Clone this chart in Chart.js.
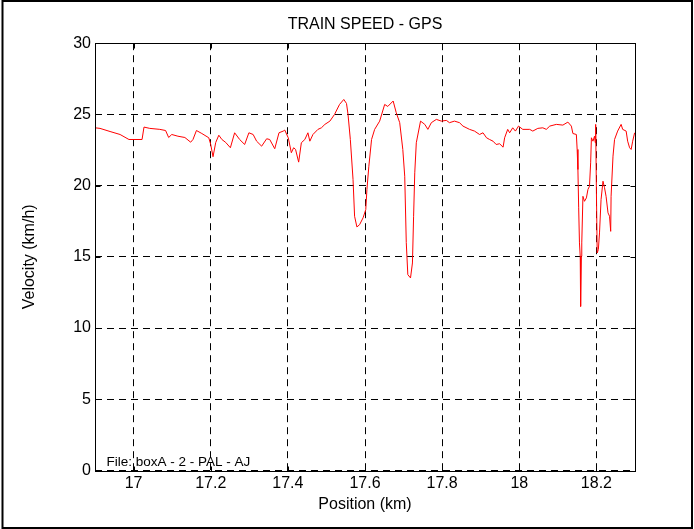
<!DOCTYPE html>
<html>
<head>
<meta charset="utf-8">
<title>Train speed - GPS</title>
<script src="https://cdn.jsdelivr.net/npm/chart.js@4.4.1/dist/chart.umd.min.js"></script>
<style>
  html, body { margin: 0; padding: 0; background: #fff; }
  canvas { display: block; }
</style>
</head>
<body>
<canvas id="speedChart" width="694" height="529"></canvas>
<script>
// Train speed from GPS along the line, MATLAB-style figure look
// (boxed axes, dashed black grid, thin red trace).

const positionKm = [
    16.900, 16.913, 16.939, 16.965, 16.988, 17.022, 17.027, 17.042, 17.068, 17.083,
    17.091, 17.099, 17.115, 17.133, 17.148, 17.154, 17.163, 17.177, 17.195, 17.200,
    17.206, 17.213, 17.221, 17.229, 17.239, 17.251, 17.262, 17.275, 17.288, 17.299,
    17.310, 17.319, 17.332, 17.345, 17.353, 17.366, 17.377, 17.388, 17.392, 17.401,
    17.409, 17.415, 17.420, 17.428, 17.435, 17.444, 17.452, 17.457, 17.465, 17.478,
    17.487, 17.496, 17.509, 17.521, 17.534, 17.545, 17.552, 17.556, 17.562, 17.569,
    17.573, 17.579, 17.586, 17.595, 17.602, 17.605, 17.610, 17.617, 17.625, 17.638,
    17.651, 17.659, 17.673, 17.681, 17.690, 17.698, 17.703, 17.707, 17.711, 17.718,
    17.723, 17.726, 17.729, 17.733, 17.744, 17.755, 17.763, 17.772, 17.785, 17.798,
    17.811, 17.819, 17.832, 17.845, 17.854, 17.871, 17.884, 17.897, 17.906, 17.915,
    17.923, 17.932, 17.940, 17.949, 17.958, 17.962, 17.970, 17.975, 17.983, 17.990,
    17.998, 18.009, 18.027, 18.035, 18.048, 18.061, 18.070, 18.079, 18.096, 18.113,
    18.126, 18.135, 18.139, 18.148, 18.150, 18.152, 18.154, 18.156, 18.158, 18.159,
    18.161, 18.162, 18.165, 18.169, 18.174, 18.178, 18.182, 18.185, 18.187, 18.191,
    18.195, 18.197, 18.198, 18.200, 18.202, 18.205, 18.208, 18.212, 18.217, 18.221,
    18.225, 18.230, 18.234, 18.237, 18.238, 18.243, 18.247, 18.255, 18.264, 18.268,
    18.277, 18.281, 18.286, 18.290, 18.294, 18.299,
];

const velocityKmh = [
    24.06, 24.02, 23.80, 23.59, 23.24, 23.24, 24.11, 24.02, 23.95, 23.87,
    23.38, 23.59, 23.47, 23.38, 23.05, 23.24, 23.87, 23.66, 23.36, 22.89,
    22.03, 23.03, 23.54, 23.24, 23.03, 22.66, 23.71, 23.24, 22.89, 23.71,
    23.59, 23.12, 22.77, 23.29, 23.24, 22.59, 23.71, 23.83, 23.90, 23.36,
    22.31, 22.66, 22.54, 21.65, 23.01, 23.24, 23.71, 23.12, 23.59, 23.95,
    24.06, 24.30, 24.53, 25.00, 25.70, 26.05, 25.77, 25.00, 23.24, 20.43,
    17.85, 17.10, 17.26, 17.74, 18.32, 19.73, 21.36, 23.24, 23.95, 24.53,
    25.70, 25.56, 25.94, 25.12, 24.42, 22.54, 20.66, 16.00, 13.75, 13.52,
    14.57, 17.85, 20.90, 23.01, 24.53, 24.30, 23.95, 24.42, 24.65, 24.53,
    24.58, 24.42, 24.53, 24.42, 24.18, 23.95, 23.83, 23.59, 23.71, 23.36,
    23.24, 23.12, 22.89, 22.94, 22.70, 23.36, 23.95, 23.71, 24.06, 23.83,
    24.18, 23.95, 23.95, 23.83, 24.02, 24.06, 23.95, 24.18, 24.30, 24.25,
    24.46, 24.18, 23.66, 23.59, 22.54, 21.13, 18.44, 15.98, 15.04, 11.52,
    15.04, 15.98, 19.25, 18.90, 19.14, 19.73, 19.96, 21.60, 23.36, 23.12,
    23.47, 23.01, 24.30, 19.49, 15.27, 15.51, 16.68, 19.02, 20.31, 19.85,
    19.25, 18.09, 17.85, 16.79, 19.25, 22.07, 23.24, 23.83, 24.30, 23.95,
    23.83, 23.12, 22.66, 22.54, 23.12, 23.71,
];

const xTickValues = [17, 17.2, 17.4, 17.6, 17.8, 18, 18.2];
const xTickLabels = ['17', '17.2', '17.4', '17.6', '17.8', '18', '18.2'];
const yTickValues = [0, 5, 10, 15, 20, 25, 30];
const FILE_NOTE = 'File: boxA - 2 - PAL - AJ';

const FONT = "'Liberation Sans', Arial, Helvetica, sans-serif";
Chart.defaults.font.family = FONT;
Chart.defaults.font.size = 16;
Chart.defaults.color = '#000';

// box around the axes, small inward tick marks, outer figure border, file note
const figurePlugin = {
    id: 'figureFrame',
    afterDraw(chart) {
        const { ctx, chartArea: a, scales } = chart;
        const L = Math.round(a.left) + 0.5, R = Math.round(a.right) + 0.5;
        const T = Math.round(a.top) + 0.5, B = Math.round(a.bottom) + 0.5;
        ctx.save();
        ctx.strokeStyle = '#000';
        ctx.lineWidth = 1;
        ctx.beginPath();
        scales.x.ticks.forEach(t => {
            const px = Math.round(scales.x.getPixelForValue(t.value)) + 0.5;
            ctx.moveTo(px, B); ctx.lineTo(px, B - 5);
            ctx.moveTo(px, T); ctx.lineTo(px, T + 5);
        });
        scales.y.ticks.forEach(t => {
            const py = Math.round(scales.y.getPixelForValue(t.value)) + 0.5;
            ctx.moveTo(L, py); ctx.lineTo(L + 5, py);
            ctx.moveTo(R, py); ctx.lineTo(R - 5, py);
        });
        ctx.stroke();
        ctx.strokeRect(L, T, R - L, B - T);

        ctx.lineWidth = 2;
        ctx.strokeRect(2.5, 1, 689.5, 527);

        ctx.font = '13.5px ' + FONT;
        ctx.fillStyle = '#000';
        ctx.textAlign = 'left';
        ctx.textBaseline = 'alphabetic';
        ctx.fillText(FILE_NOTE, 106.5, 466);
        ctx.restore();
    },
};

new Chart(document.getElementById('speedChart'), {
    type: 'line',
    data: {
        datasets: [{
            label: 'Velocity',
            data: positionKm.map((x, i) => ({ x, y: velocityKmh[i] })),
            borderColor: '#ff0000',
            borderWidth: 1,
            pointRadius: 0,
            tension: 0,
            fill: false,
        }],
    },
    options: {
        responsive: false,
        animation: false,
        devicePixelRatio: 1,
        layout: { padding: { left: 0, right: 59, top: 0, bottom: 0 } },
        plugins: {
            legend: { display: false },
            tooltip: { enabled: false },
            title: {
                display: true,
                text: 'TRAIN SPEED - GPS',
                fullSize: false,
                font: { size: 16, weight: 'normal' },
                color: '#000',
                padding: { top: 15, bottom: 9 },
            },
        },
        scales: {
            x: {
                type: 'linear',
                min: 16.9,
                max: 18.3,
                afterBuildTicks: s => { s.ticks = xTickValues.map(value => ({ value })); },
                afterFit: s => { s.height = 58.5; },
                ticks: {
                    padding: 3,
                    callback: (v) => xTickLabels[xTickValues.indexOf(v)],
                },
                grid: { color: '#000', lineWidth: 1, drawTicks: false },
                border: { display: false, dash: [7, 5] },
                title: {
                    display: true,
                    text: 'Position (km)',
                    font: { size: 16 },
                    padding: { top: 0, bottom: 14.4 },
                },
            },
            y: {
                min: 0,
                max: 30,
                afterBuildTicks: s => { s.ticks = yTickValues.map(value => ({ value })); },
                afterFit: s => { s.width = 95; },
                ticks: { padding: 4 },
                grid: { color: '#000', lineWidth: 1, drawTicks: false },
                border: { display: false, dash: [7, 5] },
                title: {
                    display: true,
                    text: 'Velocity (km/h)',
                    font: { size: 16 },
                    padding: { top: 20.4, bottom: 0 },
                },
            },
        },
    },
    plugins: [figurePlugin],
});
</script>
</body>
</html>
